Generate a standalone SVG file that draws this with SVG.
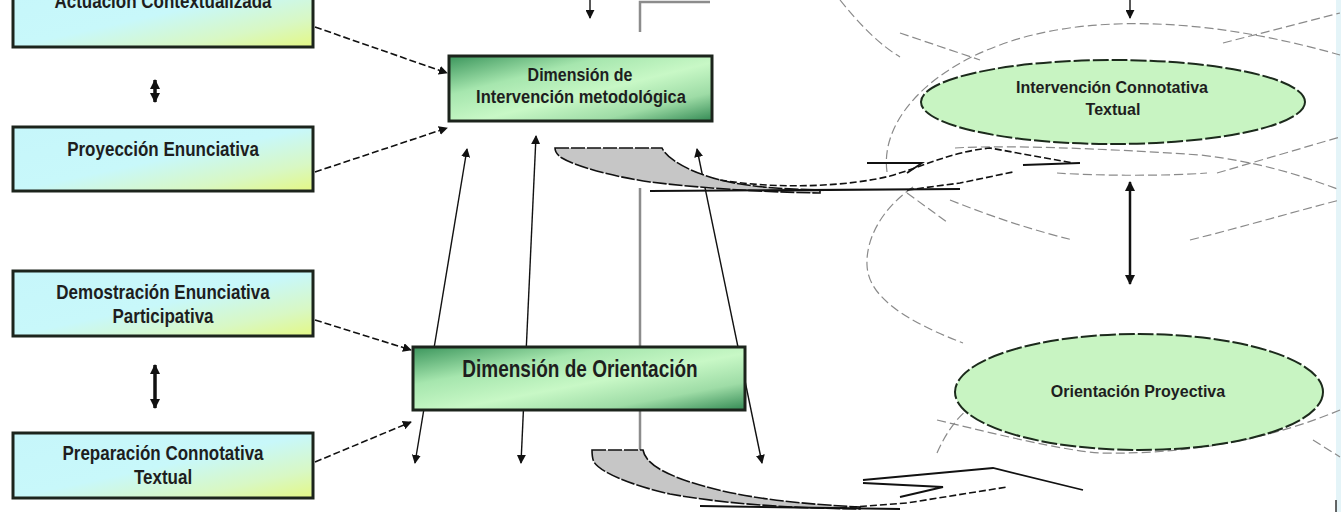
<svg xmlns="http://www.w3.org/2000/svg" width="1341" height="512" viewBox="0 0 1341 512">
<style>
.box{stroke:#1c241c;stroke-width:3}
.t{font-family:"Liberation Sans",Arial,sans-serif;font-weight:bold;fill:#1e1e1e;text-anchor:middle}
.dash{fill:none;stroke:#111;stroke-width:1.6;stroke-dasharray:7 3}
.thin{fill:none;stroke:#111;stroke-width:1.4}
.ring{fill:none;stroke:#8a8a8a;stroke-width:1.2;stroke-dasharray:9 4}
.blk{fill:none;stroke:#111;stroke-width:1.8}
.gray{fill:none;stroke:#8c8c8c;stroke-width:2.5}
.shape{fill:#c6c6c6;stroke:#111;stroke-width:1.6;stroke-dasharray:14 2}
</style>
<defs>
<marker id="ah" viewBox="0 0 10 10" refX="9" refY="5" markerWidth="9" markerHeight="9" markerUnits="userSpaceOnUse" orient="auto-start-reverse"><path d="M0,0 L10,5 L0,10 z" fill="#111"/></marker>
<marker id="ahb" viewBox="0 0 10 10" refX="9" refY="5" markerWidth="10" markerHeight="10" markerUnits="userSpaceOnUse" orient="auto-start-reverse"><path d="M0,0 L10,5 L0,10 z" fill="#111"/></marker>
<linearGradient id="gl" x1="0" y1="0" x2="1" y2="1">
<stop offset="0" stop-color="#c6f6fa"/><stop offset="0.5" stop-color="#c8f8fa"/><stop offset="0.78" stop-color="#d8f8c4"/><stop offset="1" stop-color="#e4f884"/>
</linearGradient>
<linearGradient id="gd" x1="0" y1="0" x2="1" y2="1">
<stop offset="0" stop-color="#3b955c"/><stop offset="0.3" stop-color="#a6e6ae"/><stop offset="0.55" stop-color="#c8f8c6"/><stop offset="0.78" stop-color="#9edca6"/><stop offset="1" stop-color="#338a54"/>
</linearGradient>
</defs>
<rect x="0" y="0" width="1341" height="512" fill="#ffffff"/>
<rect x="1336" y="0" width="5" height="512" fill="#e4f4f8"/>
<line x1="1336" y1="500" x2="1336" y2="512" stroke="#333" stroke-width="1.5"/>

<g id="decor">
<path class="ring" d="M840,0 C860,25 880,45 900,57"/>
<path class="ring" d="M900,33 L980,60"/>
<path class="ring" d="M887,172 C880,120 930,70 1000,45 C1080,15 1200,15 1340,55"/>
<path class="ring" d="M1223,43 L1340,13"/>
<path class="ring" d="M955,148 C1000,145 1100,148 1200,155 C1260,162 1300,175 1340,190"/>
<path class="ring" d="M1057,173 C1100,176 1170,176 1207,173"/>
<path class="ring" d="M1217,173 L1340,137"/>
<path class="ring" d="M907,193 L947,222"/>
<path class="ring" d="M950,200 C1000,220 1040,232 1073,240"/>
<path class="ring" d="M1190,240 C1250,225 1300,210 1340,200"/>
<path class="ring" d="M913,187 C880,210 866,240 867,265 C868,290 890,315 963,343"/>
<path class="ring" d="M937,420 C1000,435 1060,450 1100,453 C1200,455 1280,435 1340,410"/>
<path class="ring" d="M937,453 C945,435 955,420 967,410"/>
<path class="ring" d="M1313,440 L1340,457"/>
</g>

<g id="connectors">
<line class="dash" x1="315" y1="27" x2="447" y2="73" marker-end="url(#ah)"/>
<line class="dash" x1="315" y1="172" x2="447" y2="128" marker-end="url(#ah)"/>
<line class="dash" x1="315" y1="320" x2="411" y2="350" marker-end="url(#ah)"/>
<line class="dash" x1="315" y1="462" x2="411" y2="422" marker-end="url(#ah)"/>
<line x1="155" y1="80" x2="155" y2="102" stroke="#111" stroke-width="3.5" marker-start="url(#ahb)" marker-end="url(#ahb)"/>
<line x1="155" y1="365" x2="155" y2="408" stroke="#111" stroke-width="3.5" marker-start="url(#ahb)" marker-end="url(#ahb)"/>
<line class="thin" x1="467" y1="149" x2="415" y2="463" marker-start="url(#ah)" marker-end="url(#ah)"/>
<line class="thin" x1="536" y1="136" x2="521" y2="463" marker-start="url(#ah)" marker-end="url(#ah)"/>
<line class="thin" x1="697" y1="149" x2="762" y2="463" marker-start="url(#ah)" marker-end="url(#ah)"/>
<line class="thin" x1="590" y1="0" x2="590" y2="18" marker-end="url(#ah)"/>
<line class="thin" x1="1130" y1="0" x2="1130" y2="18" stroke-width="2" marker-end="url(#ah)"/>
<line x1="1130" y1="182" x2="1130" y2="284" stroke="#111" stroke-width="2.5" marker-start="url(#ahb)" marker-end="url(#ahb)"/>
<path class="gray" d="M640,32 L640,2 L710,2"/>
<path class="gray" d="M640,188 L640,450"/>
<path class="shape" d="M555,148 L662,148 C668,160 690,172 720,180 C750,187 780,189 820,190 L820,193 C760,192 700,188 650,182 C610,176 575,166 562,158 C557,155 555,151 555,148 Z"/>
<path d="M650,191 L960,189" fill="none" stroke="#111" stroke-width="2.2"/>
<path class="dash" d="M720,180 C780,190 850,186 890,176 C925,166 950,152 990,148 L1073,163"/>
<path class="blk" d="M867,163 L922,163 L907,173"/>
<path class="dash" d="M907,190 L960,183 L1013,172"/>
<path class="blk" d="M1023,165 L1080,163"/>
<path class="shape" d="M592,450 L643,450 C645,462 660,472 690,482 C730,495 780,503 860,507 L860,509 C780,508 720,503 670,494 C630,485 600,472 594,462 C592,458 592,454 592,450 Z"/>
<path d="M700,506 L900,509" fill="none" stroke="#111" stroke-width="2"/>
<path class="blk" d="M863,480 L993,468 L1083,490"/>
<path class="blk" d="M863,483 L943,487 L900,497"/>
<path class="dash" d="M840,508 L907,503 L1007,487"/>
</g>

<g id="n-actuacion">
<rect class="box" x="13" y="-20" width="300" height="67" fill="url(#gl)"/>
<text class="t" font-size="17" transform="translate(163,8) scale(1,1.2)">Actuación Contextualizada</text>
</g>
<g id="n-proyeccion">
<rect class="box" x="13" y="127" width="300" height="64" fill="url(#gl)"/>
<text class="t" font-size="17" transform="translate(163,156) scale(1,1.2)">Proyección Enunciativa</text>
</g>
<g id="n-demostracion">
<rect class="box" x="13" y="271" width="300" height="65" fill="url(#gl)"/>
<text class="t" font-size="17" transform="translate(163,299) scale(1,1.2)">Demostración Enunciativa</text>
<text class="t" font-size="17" transform="translate(163,323) scale(1,1.2)">Participativa</text>
</g>
<g id="n-preparacion">
<rect class="box" x="13" y="433" width="300" height="65" fill="url(#gl)"/>
<text class="t" font-size="17" transform="translate(163,460) scale(1,1.2)">Preparación Connotativa</text>
<text class="t" font-size="17" transform="translate(163,484) scale(1,1.2)">Textual</text>
</g>
<g id="n-dim-intervencion">
<rect class="box" x="449" y="56" width="263" height="65" fill="url(#gd)"/>
<text class="t" font-size="16" transform="translate(580,81) scale(1,1.1)">Dimensión de</text>
<text class="t" font-size="16.5" transform="translate(581,103) scale(1,1.1)">Intervención metodológica</text>
</g>
<g id="n-dim-orientacion">
<rect class="box" x="413" y="347" width="332" height="63" fill="url(#gd)"/>
<text class="t" font-size="19" transform="translate(580,377) scale(1,1.22)">Dimensión de Orientación</text>
</g>
<g id="n-intervencion-connotativa">
<ellipse cx="1113" cy="102" rx="192" ry="42" fill="#c8f4c2" stroke="#1c2a1c" stroke-width="2" stroke-dasharray="16 3"/>
<text class="t" x="1112" y="93" font-size="16">Intervención Connotativa</text>
<text class="t" x="1113" y="115" font-size="16">Textual</text>
</g>
<g id="n-orientacion-proyectiva">
<ellipse cx="1139" cy="392" rx="184" ry="58" fill="#c8f4c2" stroke="#1c2a1c" stroke-width="2" stroke-dasharray="16 3"/>
<text class="t" x="1138" y="397" font-size="16">Orientación Proyectiva</text>
</g>
</svg>
